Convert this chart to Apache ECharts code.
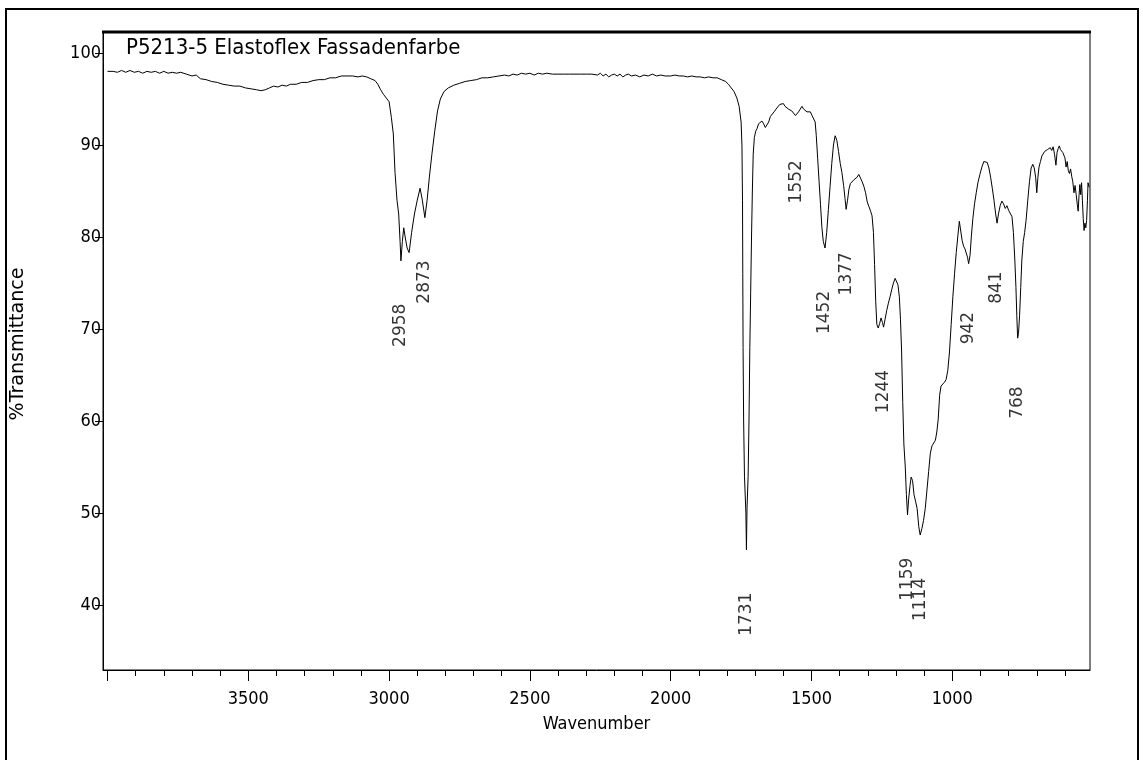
<!DOCTYPE html>
<html>
<head>
<meta charset="utf-8">
<script src="https://cdn.jsdelivr.net/npm/echarts@6.0.0/dist/echarts.min.js"></script>
<style>
  html, body { margin: 0; padding: 0; background: #fff; }
  #chart { width: 1143px; height: 760px; }
</style>
</head>
<body>
<div id="chart"></div>
<script>
// spectrum (wavenumber in cm-1, %T)
const wavenumbers = [
  4000, 3980, 3965, 3950, 3935, 3920, 3905, 3890, 3875, 3860, 3845, 3830, 3815, 3800, 3785, 3770, 3755, 3740, 3720, 3700,
  3685, 3670, 3650, 3630, 3610, 3590, 3570, 3550, 3530, 3510, 3490, 3470, 3455, 3440, 3425, 3410, 3395, 3380, 3365, 3350,
  3330, 3310, 3290, 3270, 3250, 3230, 3210, 3190, 3170, 3150, 3130, 3110, 3095, 3080, 3065, 3050, 3040, 3030, 3020, 3010,
  3000, 2992, 2985, 2979, 2972, 2966, 2961, 2958, 2953, 2948, 2943, 2936, 2929, 2920, 2910, 2900, 2890, 2882, 2873, 2865,
  2857, 2848, 2838, 2828, 2818, 2805, 2790, 2770, 2750, 2730, 2710, 2690, 2670, 2650, 2630, 2610, 2590, 2575, 2560, 2545,
  2530, 2515, 2500, 2485, 2470, 2455, 2440, 2420, 2400, 2380, 2360, 2340, 2320, 2300, 2280, 2260, 2250, 2240, 2230, 2220,
  2210, 2200, 2190, 2180, 2170, 2160, 2150, 2140, 2125, 2110, 2095, 2080, 2065, 2050, 2035, 2020, 2000, 1985, 1970, 1955,
  1940, 1925, 1910, 1895, 1880, 1865, 1850, 1835, 1820, 1805, 1795, 1785, 1775, 1765, 1757, 1750, 1747, 1745, 1744, 1743,
  1741, 1738, 1733, 1731, 1729, 1725, 1722, 1719, 1716, 1713, 1710, 1707, 1703, 1698, 1693, 1688, 1682, 1676, 1670, 1664, 1658, 1652,
  1646, 1640, 1633, 1626, 1620, 1613, 1606, 1600, 1594, 1588, 1582, 1576, 1570, 1563, 1557, 1552, 1546, 1540, 1534, 1528,
  1522, 1516, 1510, 1504, 1498, 1492, 1487, 1483, 1478, 1473, 1468, 1463, 1458, 1452, 1446, 1440, 1434, 1428, 1422, 1416,
  1410, 1404, 1398, 1392, 1386, 1381, 1377, 1372, 1367, 1362, 1356, 1350, 1344, 1338, 1332, 1326, 1320, 1314, 1308, 1302,
  1296, 1290, 1285, 1280, 1276, 1272, 1268, 1263, 1258, 1253, 1248, 1244, 1239, 1233, 1227, 1221, 1215, 1209, 1203, 1198,
  1193, 1188, 1184, 1180, 1176, 1172, 1167, 1163, 1159, 1155, 1150, 1146, 1141, 1136, 1130, 1125, 1119, 1114, 1108, 1102,
  1096, 1090, 1084, 1078, 1072, 1066, 1060, 1055, 1050, 1045, 1040, 1034, 1028, 1022, 1016, 1010, 1004, 998, 992, 986,
  980, 975, 970, 965, 960, 955, 950, 946, 942, 937, 932, 927, 921, 915, 909, 902, 895, 888, 882, 876,
  870, 864, 858, 852, 846, 841, 836, 830, 824, 818, 812, 806, 800, 794, 788, 783, 778, 774, 771, 768,
  765, 761, 757, 753, 748, 743, 738, 732, 726, 720, 714, 709, 704, 700, 696, 692, 687, 682, 677, 672,
  667, 662, 657, 652, 647, 642, 637, 632, 628, 624, 620, 616, 612, 608, 604, 600, 596, 592, 588, 584,
  580, 576, 572, 568, 564, 560, 556, 553, 550, 547, 544, 541, 538, 535, 532, 529, 526, 523, 520, 518,
  516, 514
];
const transmittance = [
  98.0, 98.0, 97.9, 98.1, 97.9, 98.1, 97.9, 98.0, 97.8, 98.0, 97.9, 98.0, 97.8, 98.0, 97.8, 97.9, 97.8, 97.9, 97.7, 97.5,
  97.6, 97.2, 97.1, 96.9, 96.8, 96.6, 96.5, 96.4, 96.4, 96.2, 96.1, 96.0, 95.9, 96.0, 96.2, 96.4, 96.3, 96.5, 96.4, 96.6,
  96.6, 96.8, 96.8, 97.0, 97.1, 97.1, 97.3, 97.3, 97.5, 97.5, 97.5, 97.4, 97.5, 97.4, 97.2, 97.0, 96.6, 96.0, 95.5, 95.1,
  94.7, 93.0, 91.2, 87.0, 84.0, 82.5, 79.5, 77.4, 79.5, 81.0, 80.0, 78.8, 78.3, 80.5, 82.5, 84.0, 85.3, 84.0, 82.1, 84.0,
  86.5, 89.0, 91.5, 93.7, 95.0, 95.8, 96.2, 96.5, 96.7, 96.9, 97.0, 97.1, 97.3, 97.3, 97.4, 97.5, 97.6, 97.5, 97.7, 97.6,
  97.8, 97.7, 97.8, 97.6, 97.8, 97.7, 97.8, 97.7, 97.7, 97.7, 97.7, 97.7, 97.7, 97.7, 97.7, 97.6, 97.8, 97.5, 97.7, 97.4,
  97.6, 97.7, 97.5, 97.7, 97.4, 97.6, 97.7, 97.5, 97.6, 97.4, 97.6, 97.5, 97.7, 97.5, 97.6, 97.5, 97.5, 97.6, 97.5, 97.5,
  97.4, 97.5, 97.4, 97.4, 97.3, 97.4, 97.3, 97.3, 97.1, 96.9, 96.6, 96.2, 95.8, 95.1, 94.2, 92.5, 90.0, 84.0, 76.0, 68.0,
  60.0, 54.0, 50.0, 46.0, 50.5, 54.0, 60.0, 68.0, 74.0, 80.0, 85.0, 89.0, 90.8, 91.5, 91.8, 92.3, 92.1, 92.6, 92.3, 91.9, 91.7, 92.5,
  93.1, 93.3, 93.6, 93.9, 94.1, 94.4, 94.2, 94.5, 94.2, 94.3, 93.9, 94.1, 93.7, 93.6, 93.2, 93.0, 93.6, 93.9, 94.2, 93.9,
  94.0, 93.6, 93.4, 93.6, 93.2, 93.1, 92.5, 91.0, 88.5, 86.0, 83.5, 81.0, 79.5, 78.8, 80.5, 83.0, 85.5, 88.0, 90.0, 91.0,
  90.5, 89.3, 88.0, 87.0, 85.6, 84.2, 83.0, 84.0, 85.2, 85.8, 85.6, 86.2, 86.0, 86.5, 86.8, 86.4, 86.0, 85.5, 84.8, 83.8,
  83.3, 82.8, 82.3, 80.5, 77.0, 73.0, 70.5, 70.1, 70.6, 71.2, 70.7, 70.2, 71.0, 72.0, 72.8, 73.5, 74.3, 75.0, 75.5, 75.4,
  74.8, 73.5, 71.0, 67.5, 62.0, 57.5, 55.0, 52.0, 49.8, 51.5, 53.0, 53.9, 53.5, 52.0, 51.2, 50.5, 48.5, 47.6, 48.3, 49.2,
  50.5, 52.5, 54.5, 56.5, 57.3, 57.6, 57.9, 58.8, 60.2, 62.8, 63.8, 64.0, 64.2, 64.5, 65.5, 67.5, 70.5, 73.5, 76.0, 78.3,
  80.2, 81.7, 81.5, 79.6, 79.0, 78.7, 78.5, 77.8, 77.1, 78.0, 80.2, 82.0, 83.6, 84.8, 85.9, 86.8, 87.6, 88.2, 88.4, 88.1,
  87.5, 86.5, 85.3, 84.0, 82.5, 81.5, 82.5, 83.4, 83.9, 83.6, 83.1, 83.4, 82.9, 82.7, 82.2, 80.5, 77.5, 74.5, 71.5, 69.0,
  69.5, 71.5, 74.5, 77.5, 79.5, 80.5, 81.8, 84.0, 86.0, 87.5, 87.9, 87.5, 86.5, 84.8, 86.5, 87.6, 88.2, 88.8, 89.0, 89.3,
  89.1, 89.5, 89.3, 89.7, 89.4, 89.8, 89.0, 87.8, 89.2, 89.6, 89.9, 89.5, 89.7, 89.2, 89.3, 88.6, 87.6, 88.2, 87.2, 86.9,
  87.4, 86.6, 86.0, 84.8, 85.6, 84.6, 83.5, 82.8, 84.5, 85.7, 84.6, 85.9, 84.0, 82.0, 80.7, 81.5, 81.0, 81.8, 84.0, 85.9,
  86.0, 85.4
];

// labelled peaks
const peaks = [2958, 2873, 1731, 1552, 1452, 1377, 1244, 1159, 1114, 942, 841, 768];

// axis ticks
const xMajorTicks = [4000, 3500, 3000, 2500, 2000, 1500, 1000];
const xTickLabels = [3500, 3000, 2500, 2000, 1500, 1000];
const xMinorTicks = [];
for (let w = 3900; w >= 600; w -= 100) {
  if (w % 500 !== 0) xMinorTicks.push(w);
}
const yTicks = [40, 50, 60, 70, 80, 90, 100];

const narrow = "'DejaVu Sans Condensed', 'Liberation Sans Narrow', sans-serif";
const wide = "'DejaVu Sans', sans-serif";

const spectrum = wavenumbers.map((w, i) => [w, transmittance[i]]);
// peak labels sit a fixed distance below the band minimum
const peakLabels = peaks.map(p => {
  const i = wavenumbers.indexOf(p);
  return [p, transmittance[i] - 7];
});

const chart = echarts.init(document.getElementById('chart'));
const option = {
  animation: false,
  backgroundColor: '#fff',
  title: {
    text: 'P5213-5 Elastoflex Fassadenfarbe',
    left: 121,
    top: 32,
    textStyle: { fontFamily: narrow, fontSize: 22, fontWeight: 'normal', color: '#000' }
  },
  grid: {
    left: 103, right: 53, top: 32, bottom: 90,
    show: true, borderColor: '#000', borderWidth: 1
  },
  xAxis: [{
    type: 'value',
    inverse: true,
    position: 'bottom',
    min: 511,
    max: 4016,
    name: 'Wavenumber',
    nameLocation: 'middle',
    nameGap: 45,
    nameTextStyle: { fontFamily: narrow, fontSize: 18, color: '#000' },
    axisLine: { show: true, lineStyle: { color: '#000', width: 1 } },
    axisTick: { show: true, length: 11, customValues: xMajorTicks, lineStyle: { color: '#000' } },
    axisLabel: { customValues: xTickLabels, margin: 20, fontFamily: narrow, fontSize: 18, color: '#000', formatter: v => String(v) },
    splitLine: { show: false }
  }, {
    type: 'value',
    inverse: true,
    position: 'bottom',
    min: 511,
    max: 4016,
    axisLine: { show: false },
    axisTick: { show: true, length: 6, customValues: xMinorTicks, lineStyle: { color: '#000' } },
    axisLabel: { show: false },
    splitLine: { show: false }
  }],
  yAxis: {
    type: 'value',
    min: 32.93,
    max: 102.28,
    name: '%Transmittance',
    nameLocation: 'middle',
    nameGap: 75,
    nameTextStyle: { fontFamily: wide, fontSize: 19, color: '#000', padding: [0, 0, 0, 14] },
    axisLine: { show: true, lineStyle: { color: '#000', width: 1 } },
    axisTick: { show: true, length: 8, customValues: yTicks, lineStyle: { color: '#000' } },
    axisLabel: { customValues: yTicks, margin: 2, fontFamily: narrow, fontSize: 18, color: '#000', formatter: v => String(v) },
    splitLine: { show: false }
  },
  graphic: [
    { type: 'rect', shape: { x: 6, y: 9, width: 1132, height: 800 }, style: { fill: 'none', stroke: '#000', lineWidth: 2 }, silent: true },
    { type: 'line', shape: { x1: 102, y1: 32, x2: 1091, y2: 32 }, style: { stroke: '#000', lineWidth: 3 }, silent: true }
  ],
  series: [{
    type: 'line',
    data: spectrum,
    showSymbol: false,
    lineStyle: { color: '#000', width: 1 },
    silent: true
  }, {
    type: 'scatter',
    data: peakLabels,
    symbolSize: 1,
    itemStyle: { color: 'rgba(0,0,0,0)' },
    silent: true,
    label: {
      show: true,
      position: 'inside',
      rotate: 90,
      fontFamily: wide,
      fontSize: 17,
      color: '#000',
      textBorderWidth: 0,
      formatter: p => String(p.value[0])
    }
  }]
};
chart.setOption(option);
</script>
</body>
</html>
